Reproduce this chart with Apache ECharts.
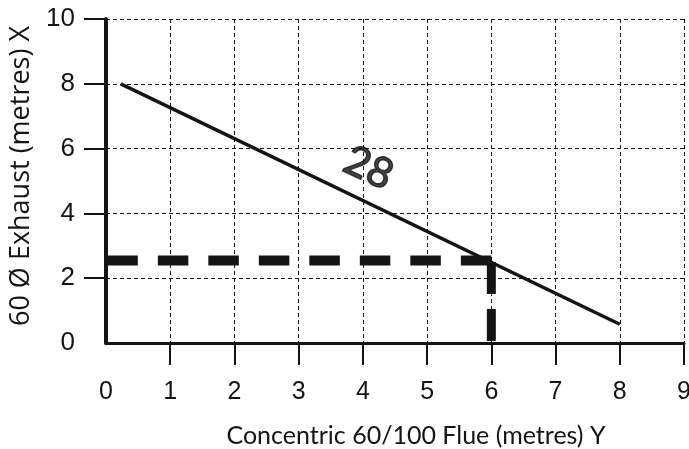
<!DOCTYPE html>
<html>
<head>
<meta charset="utf-8">
<script src="https://cdn.jsdelivr.net/npm/echarts@6/dist/echarts.min.js"></script>
<style>
  html, body { margin: 0; padding: 0; background: #fff; }
  #chart { width: 689px; height: 449px; }
</style>
</head>
<body>
<div id="chart"></div>
<script>
// Flue length trade-off: exhaust length X vs concentric flue length Y
const xTickValues = [1, 2, 3, 4, 5, 6, 7, 8, 9];
const yTickValues = [2, 4, 6, 8, 10];
const limitLine = [[0.23, 8.0], [8, 0.58]];           // curve "28"
const limitLabel = [[4.09, 5.4]];                       // where "28" sits
const exampleHoriz = [[6, 2.55], [0, 2.55]];            // worked example, X reading
const exampleVert = [[6, 2.5], [6, 0]];                 // worked example, Y reading
const curveName = '28';
const xName = 'Concentric 60/100 Flue (metres) Y';
const yName = '60 Ø Exhaust (metres) X';

const ink = '#141414';
const numFont = 'Liberation Sans';
const humanFont = 'Lato';

const chart = echarts.init(document.getElementById('chart'), null, { renderer: 'canvas' });

chart.setOption({
  animation: false,
  backgroundColor: '#ffffff',
  grid: { left: 106, right: 5, top: 19, bottom: 106, containLabel: false, outerBoundsMode: 'none' },
  xAxis: {
    type: 'value', min: 0, max: 9, interval: 1,
    name: xName, nameLocation: 'middle', nameGap: 80,
    nameTextStyle: { fontFamily: humanFont, fontSize: 25, color: ink, padding: [0, 0, 0, 42] },
    axisLine: { show: true, lineStyle: { color: ink, width: 3 } },
    axisTick: { show: true, customValues: xTickValues, length: 22, lineStyle: { color: ink, width: 2 } },
    axisLabel: { fontFamily: numFont, fontSize: 25, color: ink, margin: 37 },
    splitLine: { show: true, lineStyle: { color: ink, width: 1, type: [4, 3] } }
  },
  yAxis: {
    type: 'value', min: 0, max: 10, interval: 2,
    name: yName, nameLocation: 'middle', nameGap: 69, nameRotate: 90,
    nameTextStyle: { fontFamily: 'Open Sans', fontSize: 27, color: ink, padding: [0, 0, 0, 10] },
    axisLine: { show: true, lineStyle: { color: ink, width: 4 } },
    axisTick: { show: true, customValues: yTickValues, length: 22, lineStyle: { color: ink, width: 2 } },
    axisLabel: { fontFamily: numFont, fontSize: 26, color: ink, margin: 31 },
    splitLine: { show: true, lineStyle: { color: ink, width: 1, type: [4, 3] } }
  },
  series: [
    {
      type: 'line', data: limitLine, symbol: 'none', silent: true,
      lineStyle: { color: ink, width: 3.5 }, z: 3
    },
    {
      type: 'line', data: exampleHoriz, symbol: 'none', silent: true,
      lineStyle: { color: ink, width: 10, type: [30.5, 20], cap: 'butt' }, z: 4
    },
    {
      type: 'line', data: exampleVert, symbol: 'none', silent: true,
      lineStyle: { color: ink, width: 9, type: [32, 15], cap: 'butt' }, z: 4
    },
    {
      type: 'scatter', data: limitLabel, symbolSize: 0, silent: true,
      label: {
        show: true, position: 'inside', formatter: curveName,
        fontFamily: humanFont, fontSize: 42, color: ink, rotate: -25,
        textBorderColor: ink, textBorderWidth: 1.4
      }, z: 5
    }
  ]
});
</script>
</body>
</html>
